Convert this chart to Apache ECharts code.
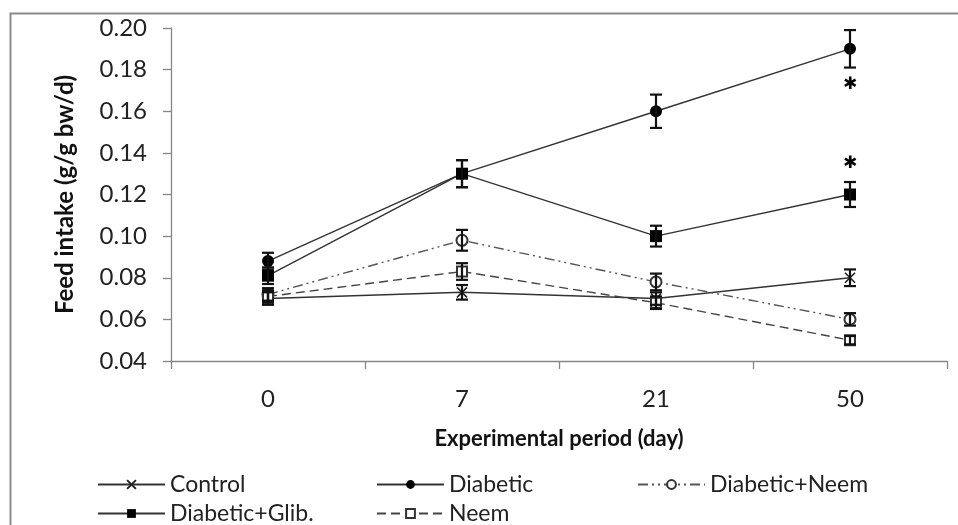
<!DOCTYPE html>
<html>
<head>
<meta charset="utf-8">
<script src="https://cdn.jsdelivr.net/npm/echarts@6/dist/echarts.min.js"></script>
<style>
html,body{margin:0;padding:0;background:#fff;}
#chart{width:958px;height:525px;}
</style>
</head>
<body>
<div id="chart"></div>
<script>
// ---- data ----
const days = ['0', '7', '21', '50'];
const yTicks = [0.04, 0.06, 0.08, 0.10, 0.12, 0.14, 0.16, 0.18, 0.20];

const controlMean = [0.070, 0.073, 0.070, 0.080];
const controlErr  = [0.003, 0.0035, 0.003, 0.004];

const diabeticMean = [0.088, 0.130, 0.160, 0.190];
const diabeticErr  = [0.004, 0.0065, 0.008, 0.009];

const diabNeemMean = [0.072, 0.098, 0.078, 0.060];
const diabNeemErr  = [0.003, 0.005, 0.004, 0.003];

const diabGlibMean = [0.081, 0.130, 0.100, 0.120];
const diabGlibErr  = [0.004, 0.0065, 0.005, 0.006];

const neemMean = [0.071, 0.083, 0.068, 0.050];
const neemErr  = [0.003, 0.004, 0.003, 0.002];

const sigDay = 3; // index of day '50'
const sigValues = [0.173, 0.135];

const seriesNames = ['Control', 'Diabetic', 'Diabetic+Neem', 'Diabetic+Glib.', 'Neem'];

// ---- helpers ----
const FONT = 'Lato';
function errData(mean, err) {
  return mean.map((m, i) => [i, m - err[i], m + err[i]]);
}
function renderErr(params, api) {
  const lo = api.coord([api.value(0), api.value(1)]);
  const hi = api.coord([api.value(0), api.value(2)]);
  const w = 6;
  const st = { stroke: '#111', lineWidth: 2.2 };
  return {
    type: 'group',
    children: [
      { type: 'line', shape: { x1: lo[0], y1: lo[1], x2: hi[0], y2: hi[1] }, style: st },
      { type: 'line', shape: { x1: lo[0] - w, y1: lo[1], x2: lo[0] + w, y2: lo[1] }, style: st },
      { type: 'line', shape: { x1: hi[0] - w, y1: hi[1], x2: hi[0] + w, y2: hi[1] }, style: st }
    ]
  };
}
function errSeries(mean, err) {
  return {
    type: 'custom', renderItem: renderErr, data: errData(mean, err),
    z: 5, silent: true, tooltip: { show: false }
  };
}
function renderStar(params, api) {
  const p = api.coord([api.value(0), api.value(1)]);
  return {
    type: 'text',
    style: {
      x: p[0], y: p[1], text: '\u2731', align: 'center', verticalAlign: 'middle',
      font: 'bold 17px "DejaVu Sans"', fill: '#000'
    }
  };
}

const xSymbol = 'path://M0,0L10,10M10,0L0,10';

const chart = echarts.init(document.getElementById('chart'), null, { renderer: 'canvas' });

const legendTop1 = 468, legendTop2 = 497;
function legendItem(name, left, top) {
  return {
    data: [name], left: left, top: top, itemWidth: 67, itemHeight: 11, itemGap: 8,
    textStyle: { fontFamily: FONT, fontSize: 23, color: '#222' },
    selectedMode: false
  };
}

const option = {
  backgroundColor: '#fff',
  animation: false,
  graphic: [{
    type: 'rect', left: 8, top: 11, silent: true,
    shape: { width: 970, height: 540 },
    style: { fill: 'none', stroke: '#8a8a8a', lineWidth: 2 }
  }],
  grid: { left: 171, right: 11, top: 28, bottom: 164 },
  legend: [
    legendItem(seriesNames[0], 92, legendTop1),
    legendItem(seriesNames[1], 371, legendTop1),
    legendItem(seriesNames[2], 632, legendTop1),
    legendItem(seriesNames[3], 92, legendTop2),
    legendItem(seriesNames[4], 371, legendTop2)
  ],
  xAxis: {
    type: 'category', data: days, boundaryGap: true,
    name: 'Experimental period (day)', nameLocation: 'middle', nameGap: 67,
    nameTextStyle: { fontFamily: FONT, fontSize: 22, fontWeight: 'bold', color: '#111' },
    axisLine: { lineStyle: { color: '#868686', width: 1.3 } },
    axisTick: { show: true, length: 8, alignWithLabel: false, lineStyle: { color: '#868686', width: 1.3 } },
    axisLabel: { fontFamily: FONT, fontSize: 24, color: '#222', margin: 26 },
    splitLine: { show: false }
  },
  yAxis: {
    type: 'value', min: yTicks[0], max: yTicks[yTicks.length - 1], interval: 0.02,
    name: 'Feed intake (g/g bw/d)', nameLocation: 'middle', nameGap: 94, nameRotate: 90,
    nameTextStyle: { fontFamily: FONT, fontSize: 24, fontWeight: 'bold', color: '#111' },
    axisLine: { show: true, lineStyle: { color: '#868686', width: 1.3 } },
    axisTick: { show: true, length: 8, lineStyle: { color: '#868686', width: 1.3 } },
    axisLabel: { fontFamily: FONT, fontSize: 24, color: '#222', margin: 24,
      formatter: v => v.toFixed(2) },
    splitLine: { show: false }
  },
  series: [
    {
      name: seriesNames[0], type: 'line', data: controlMean,
      symbol: xSymbol, symbolSize: 10,
      lineStyle: { color: '#333', width: 1.4, type: 'solid' },
      itemStyle: { color: '#222', borderColor: '#222', borderWidth: 1.6 }, z: 3
    },
    {
      name: seriesNames[1], type: 'line', data: diabeticMean,
      symbol: 'circle', symbolSize: 12,
      lineStyle: { color: '#333', width: 1.4, type: 'solid' },
      itemStyle: { color: '#000' }, z: 3
    },
    {
      name: seriesNames[2], type: 'line', data: diabNeemMean,
      symbol: 'emptyCircle', symbolSize: 11,
      lineStyle: { color: '#555', width: 1.4, type: [10, 4, 2, 4, 2, 4] },
      itemStyle: { color: '#333', borderColor: '#333', borderWidth: 1.5 }, z: 3
    },
    {
      name: seriesNames[3], type: 'line', data: diabGlibMean,
      symbol: 'rect', symbolSize: 12,
      lineStyle: { color: '#333', width: 1.4, type: 'solid' },
      itemStyle: { color: '#000' }, z: 3
    },
    {
      name: seriesNames[4], type: 'line', data: neemMean,
      symbol: 'emptyRect', symbolSize: 10,
      lineStyle: { color: '#444', width: 1.4, type: [9, 5] },
      itemStyle: { color: '#333', borderColor: '#333', borderWidth: 1.5 }, z: 3
    },
    errSeries(controlMean, controlErr),
    errSeries(diabeticMean, diabeticErr),
    errSeries(diabNeemMean, diabNeemErr),
    errSeries(diabGlibMean, diabGlibErr),
    errSeries(neemMean, neemErr),
    {
      type: 'custom', renderItem: renderStar,
      data: sigValues.map(v => [sigDay, v]), z: 6, silent: true
    }
  ]
};
chart.setOption(option);
</script>
</body>
</html>
